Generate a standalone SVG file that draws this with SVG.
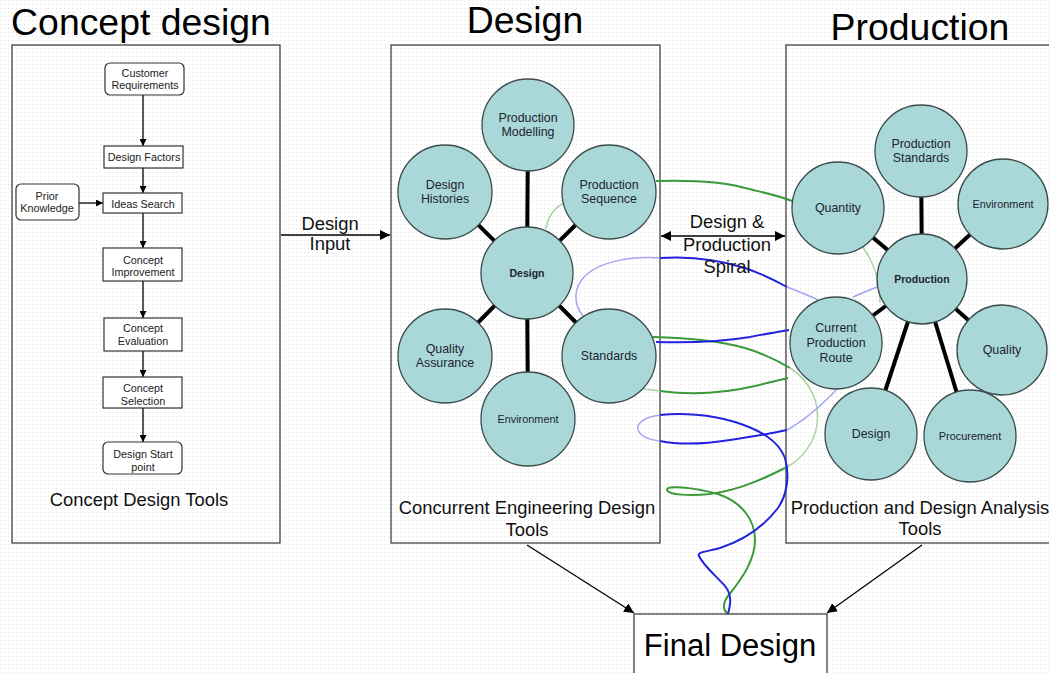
<svg xmlns="http://www.w3.org/2000/svg" width="1049" height="673" viewBox="0 0 1049 673">
<defs>
<pattern id="dots" width="4" height="4" patternUnits="userSpaceOnUse"><rect x="0" y="0" width="1" height="1" fill="#e2e2e2"/></pattern>
<marker id="ah" viewBox="0 0 10 10" refX="10" refY="5" markerWidth="7" markerHeight="7" orient="auto-start-reverse" markerUnits="userSpaceOnUse"><path d="M0,0 L10,5 L0,10 z" fill="#000"/></marker>
<marker id="ahb" viewBox="0 0 10 10" refX="10" refY="5" markerWidth="10" markerHeight="10" orient="auto-start-reverse" markerUnits="userSpaceOnUse"><path d="M0,0 L10,5 L0,10 z" fill="#000"/></marker>
<style>
.title{font-family:"Liberation Sans",Arial,sans-serif;font-size:37.4px;fill:#000;text-anchor:middle}
.lbl{font-family:"Liberation Sans",Arial,sans-serif;font-size:18.4px;fill:#111;text-anchor:middle}
.big{font-family:"Liberation Sans",Arial,sans-serif;font-size:31px;fill:#000;text-anchor:middle}
.fc{fill:#fff;stroke:#333;stroke-width:1.2}
.fct{font-family:"Liberation Sans",Arial,sans-serif;font-size:10.8px;fill:#222;text-anchor:middle}
.frame{fill:none;stroke:#333;stroke-width:1.2}
.circ{fill:#aad8d8;stroke:#3c4c4c;stroke-width:1.3}
.ct{font-family:"Liberation Sans",Arial,sans-serif;font-size:12.4px;fill:#1c2430;text-anchor:middle}
.cs{font-family:"Liberation Sans",Arial,sans-serif;font-size:10.9px;fill:#1c2430;text-anchor:middle}
.cb{font-family:"Liberation Sans",Arial,sans-serif;font-size:10.5px;font-weight:bold;fill:#1c2430;text-anchor:middle}
.spoke{stroke:#000;stroke-width:4;fill:none}
.arr{stroke:#000;stroke-width:1.3;fill:none}
.gd{stroke:#3a9a3a;stroke-width:2;fill:none}
.gl{stroke:#a9d2a2;stroke-width:1.5;fill:none}
.bd{stroke:#2222dd;stroke-width:2;fill:none}
.bl{stroke:#a4a4f2;stroke-width:1.5;fill:none}
</style>
</defs>
<rect x="0" y="0" width="1049" height="673" fill="#fff"/>
<rect x="0" y="0" width="1049" height="673" fill="url(#dots)"/>

<text class="title" x="141" y="35">Concept design</text>
<text class="title" x="525" y="33">Design</text>
<text class="title" x="920" y="40">Production</text>

<rect class="frame" x="12" y="45" width="268" height="498"/>
<rect class="frame" x="391" y="45" width="269" height="498"/>
<rect class="frame" x="786" y="45" width="300" height="498"/>

<g id="connectors">
<line class="arr" x1="143" y1="95" x2="143" y2="146" marker-end="url(#ah)"/>
<line class="arr" x1="143" y1="168" x2="143" y2="193" marker-end="url(#ah)"/>
<line class="arr" x1="79" y1="203" x2="103" y2="203" marker-end="url(#ah)"/>
<line class="arr" x1="143" y1="213" x2="143" y2="248" marker-end="url(#ah)"/>
<line class="arr" x1="143" y1="281" x2="143" y2="318" marker-end="url(#ah)"/>
<line class="arr" x1="143" y1="351" x2="143" y2="377" marker-end="url(#ah)"/>
<line class="arr" x1="143" y1="408" x2="143" y2="442" marker-end="url(#ah)"/>
<line class="arr" x1="281" y1="235" x2="390" y2="235" marker-end="url(#ahb)"/>
<line class="arr" x1="661" y1="236" x2="785" y2="236" marker-start="url(#ahb)" marker-end="url(#ahb)"/>
<line class="arr" x1="527" y1="545" x2="634" y2="613" marker-end="url(#ahb)"/>
<line class="arr" x1="922" y1="545" x2="827" y2="613" marker-end="url(#ahb)"/>

<!-- spiral -->
<path class="gl" d="M546,229 C548,215 555,207 566,202"/>
<path class="gd" d="M656,181 C690,180 720,181 745,188 C765,193 780,196 792,201"/>
<path class="gl" d="M862,246 C874,262 880,282 880,303"/>
<path class="gd" d="M653,337 C690,338 720,341 745,348 C765,354 780,362 790,368"/>
<path class="gl" d="M790,368 C812,382 820,405 817,425 C814,445 800,460 787,467"/>
<path class="gd" d="M787,467 C765,478 740,490 710,494 C690,496 668,495 667,490 C666,485 692,487 718,494 C742,502 755,520 755,540 C755,560 742,578 732,591 C722,602 722,609 728,614"/>
<path class="gl" d="M643,389 L660,391"/>
<path class="gd" d="M660,391 C690,395 725,393 755,386 C770,382 780,380 788,378"/>
<path class="bl" d="M660,258 C630,256 600,262 586,275 C572,288 574,305 583,316"/>
<path class="bd" d="M660,258 C690,256 720,260 745,268 C765,275 778,282 787,287"/>
<path class="bl" d="M787,287 C800,292 810,296 818,300"/>
<path class="bl" d="M853,297 C862,293 870,290 877,287"/>
<path class="bd" d="M656,342 C690,343 720,342 750,337 C765,334 777,332 789,330"/>
<path class="bl" d="M660,415 C645,417 636,423 638,430 C641,437 650,440 660,441"/>
<path class="bd" d="M660,415 C680,413 710,414 735,422 C760,430 778,440 785,458 C790,475 787,495 778,508 C765,525 745,540 720,548 C705,552 697,552 699,556 C703,565 715,575 725,586 C733,596 730,606 728,614"/>
<path class="bd" d="M660,441 C680,445 705,444 730,440 C750,437 770,434 787,430"/>
<path class="bl" d="M787,430 C805,420 822,405 838,388"/>

<!-- spokes -->
<line class="spoke" x1="527" y1="273" x2="528" y2="125"/>
<line class="spoke" x1="527" y1="273" x2="445" y2="192"/>
<line class="spoke" x1="527" y1="273" x2="609" y2="192"/>
<line class="spoke" x1="527" y1="273" x2="445" y2="356"/>
<line class="spoke" x1="527" y1="273" x2="609" y2="356"/>
<line class="spoke" x1="527" y1="273" x2="528" y2="419"/>
<line class="spoke" x1="922" y1="279" x2="921" y2="151"/>
<line class="spoke" x1="922" y1="279" x2="838" y2="208"/>
<line class="spoke" x1="922" y1="279" x2="1003" y2="204"/>
<line class="spoke" x1="922" y1="279" x2="836" y2="343"/>
<line class="spoke" x1="922" y1="279" x2="1002" y2="350"/>
<line class="spoke" x1="922" y1="279" x2="871" y2="434"/>
<line class="spoke" x1="922" y1="279" x2="970" y2="436"/>
</g>

<g id="customer-requirements"><rect class="fc" x="105" y="63" width="79" height="32" rx="5"/><text class="fct" x="145" y="77">Customer</text><text class="fct" x="145" y="89">Requirements</text></g>
<g id="design-factors"><rect class="fc" x="104" y="146" width="79" height="22"/><text class="fct" x="144" y="161">Design Factors</text></g>
<g id="prior-knowledge"><rect class="fc" x="16" y="184" width="63" height="36" rx="5"/><text class="fct" x="47" y="200">Prior</text><text class="fct" x="47" y="212">Knowledge</text></g>
<g id="ideas-search"><rect class="fc" x="103" y="193" width="79" height="20"/><text class="fct" x="143" y="208">Ideas Search</text></g>
<g id="concept-improvement"><rect class="fc" x="103" y="248" width="79" height="33"/><text class="fct" x="143" y="264">Concept</text><text class="fct" x="143" y="276">Improvement</text></g>
<g id="concept-evaluation"><rect class="fc" x="104" y="318" width="78" height="33"/><text class="fct" x="143" y="332">Concept</text><text class="fct" x="143" y="345">Evaluation</text></g>
<g id="concept-selection"><rect class="fc" x="103" y="377" width="79" height="31"/><text class="fct" x="143" y="392">Concept</text><text class="fct" x="143" y="405">Selection</text></g>
<g id="design-start-point"><rect class="fc" x="103" y="442" width="79" height="32" rx="5"/><text class="fct" x="143" y="458">Design Start</text><text class="fct" x="143" y="471">point</text></g>
<text class="lbl" x="139" y="506">Concept Design Tools</text>

<text class="lbl" x="330" y="230">Design</text>
<text class="lbl" x="330" y="250">Input</text>

<g id="d-production-modelling"><circle class="circ" cx="528" cy="125" r="46"/><text class="ct" x="528" y="122">Production</text><text class="ct" x="528" y="136">Modelling</text></g>
<g id="d-design-histories"><circle class="circ" cx="445" cy="192" r="47"/><text class="ct" x="445" y="189">Design</text><text class="ct" x="445" y="203">Histories</text></g>
<g id="d-production-sequence"><circle class="circ" cx="609" cy="192" r="47"/><text class="ct" x="609" y="189">Production</text><text class="ct" x="609" y="203">Sequence</text></g>
<g id="d-design"><circle class="circ" cx="527" cy="273" r="46"/><text class="cb" x="527" y="277">Design</text></g>
<g id="d-quality-assurance"><circle class="circ" cx="445" cy="356" r="47"/><text class="ct" x="445" y="353">Quality</text><text class="ct" x="445" y="367">Assurance</text></g>
<g id="d-standards"><circle class="circ" cx="609" cy="356" r="47"/><text class="ct" x="609" y="360">Standards</text></g>
<g id="d-environment"><circle class="circ" cx="528" cy="419" r="47"/><text class="cs" x="528" y="423">Environment</text></g>
<text class="lbl" x="527" y="514">Concurrent Engineering Design</text>
<text class="lbl" x="527" y="536">Tools</text>

<text class="lbl" x="727" y="228">Design &amp;</text>
<text class="lbl" x="727" y="251">Production</text>
<text class="lbl" x="727" y="273">Spiral</text>

<g id="p-production-standards"><circle class="circ" cx="921" cy="151" r="46"/><text class="ct" x="921" y="148">Production</text><text class="ct" x="921" y="162">Standards</text></g>
<g id="p-quantity"><circle class="circ" cx="838" cy="208" r="46"/><text class="ct" x="838" y="212">Quantity</text></g>
<g id="p-environment"><circle class="circ" cx="1003" cy="204" r="45"/><text class="cs" x="1003" y="208">Environment</text></g>
<g id="p-production"><circle class="circ" cx="922" cy="279" r="45"/><text class="cb" x="922" y="283">Production</text></g>
<g id="p-current-production-route"><circle class="circ" cx="836" cy="343" r="46"/><text class="ct" x="836" y="332">Current</text><text class="ct" x="836" y="347">Production</text><text class="ct" x="836" y="362">Route</text></g>
<g id="p-quality"><circle class="circ" cx="1002" cy="350" r="45"/><text class="ct" x="1002" y="354">Quality</text></g>
<g id="p-design"><circle class="circ" cx="871" cy="434" r="46"/><text class="ct" x="871" y="438">Design</text></g>
<g id="p-procurement"><circle class="circ" cx="970" cy="436" r="46"/><text class="cs" x="970" y="440">Procurement</text></g>
<text class="lbl" x="920" y="514">Production and Design Analysis</text>
<text class="lbl" x="920" y="535">Tools</text>

<g id="final-design"><rect x="634" y="614" width="193" height="70" fill="#fff" stroke="#333" stroke-width="1.2"/><text class="big" x="730" y="656">Final Design</text></g>
</svg>
